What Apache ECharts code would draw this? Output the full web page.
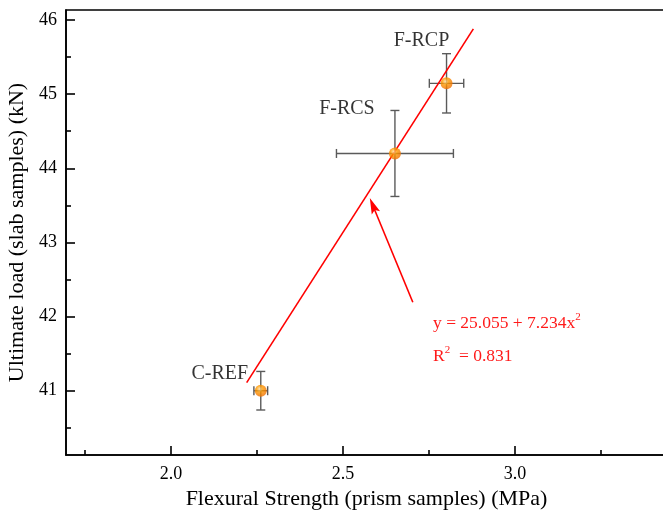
<!DOCTYPE html>
<html><head><meta charset="utf-8">
<script src="https://cdn.jsdelivr.net/npm/echarts@6/dist/echarts.min.js"></script>
<style>html,body{margin:0;padding:0;background:#fff}#c{width:663px;height:516px}</style>
</head><body><div id="c"></div>
<script>
// ---- data ----
var names = ['C-REF', 'F-RCS', 'F-RCP'];
var strength = [2.261, 2.651, 2.801];      // MPa
var strengthErr = [0.02, 0.17, 0.05];
var load = [41.0, 44.20, 45.146];          // kN
var loadErr = [0.26, 0.58, 0.40];
var fitLineX = [2.220, 2.879];
var fitLineY = [41.11, 45.88];
var arrowFrom = [2.703, 42.194];
var arrowTo = [2.578, 43.598];
var xMajorTicks = [2.0, 2.5, 3.0];
var xMinorTicks = [1.75, 2.25, 2.75, 3.25];
var yMajorTicks = [41, 42, 43, 44, 45, 46];
var yMinorTicks = [40.5, 41.5, 42.5, 43.5, 44.5, 45.5];

var FONT = '"Liberation Serif", "DejaVu Serif", serif';
var labelOffsets = [[-41, -17], [-48, -45], [-25, -43]];

var chart = echarts.init(document.getElementById('c'), null, {renderer: 'canvas'});

var xMin = 1.6948, xMax = 3.4419, yMin = 40.133, yMax = 46.135;

function baseAxis(extra) {
  return Object.assign({
    type: 'value', splitLine: {show: false},
    axisLine: {show: true, onZero: false, lineStyle: {color: '#000', width: 1.6}}
  }, extra);
}

var fitData = fitLineX.map(function (x, i) { return [x, fitLineY[i]]; });
var pointData = names.map(function (n, i) {
  return {
    name: n, value: [strength[i], load[i]],
    label: {show: true, formatter: n, position: 'inside', offset: labelOffsets[i],
      fontFamily: FONT, fontSize: 20, color: '#000'}
  };
});
var errData = names.map(function (n, i) { return [strength[i], load[i], strengthErr[i], loadErr[i]]; });

var option = {
  animation: false,
  backgroundColor: '#fff',
  grid: {left: 66, right: -4, top: 10, bottom: 61, outerBoundsMode: 'none', containLabel: false,
    show: true, borderColor: '#000', borderWidth: 1.6, backgroundColor: 'transparent'},
  xAxis: [
    baseAxis({min: xMin, max: xMax, position: 'bottom',
      name: 'Flexural Strength (prism samples) (MPa)', nameLocation: 'middle', nameGap: 31,
      nameTextStyle: {fontFamily: FONT, fontSize: 22, color: '#000'},
      axisTick: {show: true, inside: true, length: 9, customValues: xMajorTicks, lineStyle: {color: '#000', width: 1.6}},
      axisLabel: {show: true, customValues: xMajorTicks, margin: 10, fontFamily: FONT, fontSize: 18, color: '#000',
        formatter: function (v) { return v.toFixed(1); }}
    }),
    baseAxis({min: xMin, max: xMax, position: 'bottom', axisLine: {show: false},
      axisTick: {show: true, inside: true, length: 5, customValues: xMinorTicks, lineStyle: {color: '#000', width: 1.6}},
      axisLabel: {show: false}
    })
  ],
  yAxis: [
    baseAxis({min: yMin, max: yMax, position: 'left',
      name: 'Ultimate load (slab samples) (kN)', nameLocation: 'middle', nameGap: 29, nameRotate: 90,
      nameTextStyle: {fontFamily: FONT, fontSize: 22, color: '#000'},
      axisTick: {show: true, inside: true, length: 9, customValues: yMajorTicks, lineStyle: {color: '#000', width: 1.6}},
      axisLabel: {show: true, customValues: yMajorTicks, margin: 9, fontFamily: FONT, fontSize: 18, color: '#000'}
    }),
    baseAxis({min: yMin, max: yMax, position: 'left', axisLine: {show: false},
      axisTick: {show: true, inside: true, length: 5, customValues: yMinorTicks, lineStyle: {color: '#000', width: 1.6}},
      axisLabel: {show: false}
    })
  ],
  series: [
    {
      type: 'line', data: fitData, symbol: 'none', z: 3,
      lineStyle: {color: '#ff0000', width: 1.6}
    },
    {
      type: 'custom', z: 2, data: errData,
      renderItem: function (params, api) {
        var x = api.value(0), y = api.value(1), xe = api.value(2), ye = api.value(3);
        var c = api.coord([x, y]);
        var l = api.coord([x - xe, y]), r = api.coord([x + xe, y]);
        var t = api.coord([x, y + ye]), b = api.coord([x, y - ye]);
        var cap = 4.5;
        var st = {stroke: '#5a5a5a', lineWidth: 1.4};
        function ln(x1, y1, x2, y2) { return {type: 'line', shape: {x1: x1, y1: y1, x2: x2, y2: y2}, style: st}; }
        return {type: 'group', children: [
          ln(l[0], c[1], r[0], c[1]),
          ln(l[0], c[1] - cap, l[0], c[1] + cap),
          ln(r[0], c[1] - cap, r[0], c[1] + cap),
          ln(c[0], t[1], c[0], b[1]),
          ln(c[0] - cap, t[1], c[0] + cap, t[1]),
          ln(c[0] - cap, b[1], c[0] + cap, b[1])
        ]};
      }
    },
    {
      type: 'scatter', z: 5, symbol: 'circle', symbolSize: 12, data: pointData,
      itemStyle: {
        color: {type: 'radial', x: 0.4, y: 0.35, r: 0.65,
          colorStops: [{offset: 0, color: '#ffe0a0'}, {offset: 0.4, color: '#ff9a00'}, {offset: 1, color: '#f07000'}]}
      }
    },
    {
      type: 'custom', z: 4, data: [[arrowFrom[0], arrowFrom[1], arrowTo[0], arrowTo[1]]],
      renderItem: function (params, api) {
        var p1 = api.coord([api.value(0), api.value(1)]);
        var p2 = api.coord([api.value(2), api.value(3)]);
        var dx = p2[0] - p1[0], dy = p2[1] - p1[1];
        var len = Math.sqrt(dx * dx + dy * dy);
        var ux = dx / len, uy = dy / len;
        var hl = 16, hw = 4.5;
        var bx = p2[0] - ux * hl, by = p2[1] - uy * hl;
        return {type: 'group', children: [
          {type: 'line', shape: {x1: p1[0], y1: p1[1], x2: bx + ux * 4, y2: by + uy * 4}, style: {stroke: '#ff0000', lineWidth: 1.6}},
          {type: 'polygon', shape: {points: [[p2[0], p2[1]], [bx - uy * hw, by + ux * hw], [bx + ux * 3, by + uy * 3], [bx + uy * hw, by - ux * hw]]},
            style: {fill: '#ff0000'}}
        ]};
      }
    }
  ],
  graphic: [
    {type: 'text', left: 433, top: 312, style: {
      text: '{a|y = 25.055 + 7.234x}{s|2}',
      rich: {
        a: {fontFamily: FONT, fontSize: 17.5, fill: '#ff1a1a', lineHeight: 22},
        s: {fontFamily: FONT, fontSize: 11, fill: '#ff1a1a', verticalAlign: 'top', lineHeight: 14}
      }}},
    {type: 'text', left: 433, top: 345, style: {
      text: '{a|R}{s|2}{a|  = 0.831}',
      rich: {
        a: {fontFamily: FONT, fontSize: 17.5, fill: '#ff1a1a', lineHeight: 22},
        s: {fontFamily: FONT, fontSize: 11, fill: '#ff1a1a', verticalAlign: 'top', lineHeight: 14}
      }}}
  ]
};
chart.setOption(option);
</script></body></html>
